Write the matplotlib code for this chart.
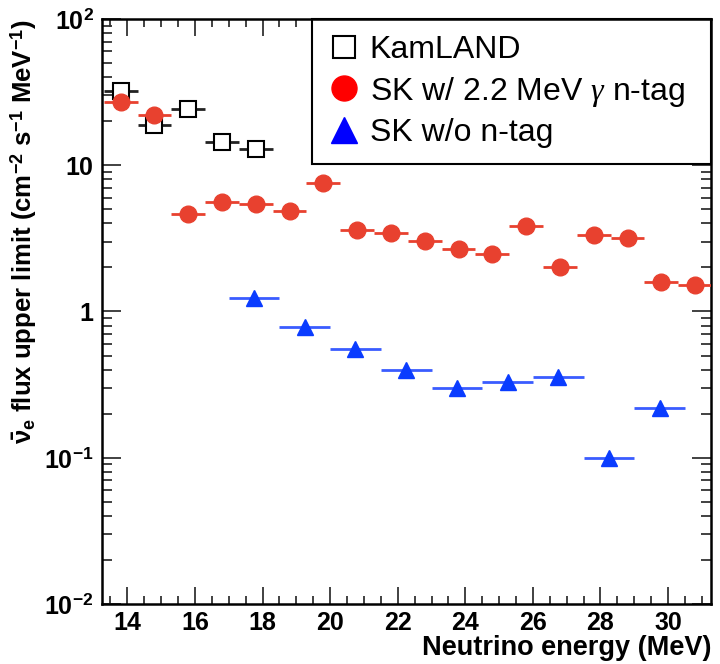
import matplotlib
matplotlib.use("Agg")
import matplotlib.pyplot as plt
from matplotlib.lines import Line2D
from matplotlib.ticker import MultipleLocator, LogLocator, FixedLocator, FixedFormatter, NullFormatter
import numpy as np

plt.rcParams['font.family'] = ['Liberation Sans', 'DejaVu Sans']
plt.rcParams['mathtext.fontset'] = 'custom'
plt.rcParams['mathtext.rm'] = 'Liberation Sans:bold'
plt.rcParams['mathtext.bf'] = 'Liberation Sans:bold'
plt.rcParams['mathtext.it'] = 'Liberation Serif:italic'

# KamLAND limits (1 MeV bins)
kam_e = [13.8, 14.8, 15.8, 16.8, 17.8]
kam_lim = [32.2, 18.8, 24.3, 14.4, 12.9]
kam_hw = 0.5

# SK with 2.2 MeV gamma n-tag (1 MeV bins)
sk_e = [13.8, 14.8, 15.8, 16.8, 17.8, 18.8, 19.8, 20.8, 21.8,
        22.8, 23.8, 24.8, 25.8, 26.8, 27.8, 28.8, 29.8, 30.8]
sk_lim = [27.0, 22.1, 4.64, 5.61, 5.43, 4.86, 7.57, 3.61, 3.42,
          3.03, 2.67, 2.47, 3.85, 2.01, 3.33, 3.18, 1.59, 1.52]
sk_hw = 0.5

# SK without n-tag (1.5 MeV bins)
nt_e = [17.75, 19.25, 20.75, 22.25, 23.75, 25.25, 26.75, 28.25, 29.75]
nt_lim = [1.24, 0.783, 0.555, 0.398, 0.300, 0.330, 0.356, 0.0995, 0.219]
nt_hw = 0.75

red = '#e8412f'
blue = '#0a3cff'

fig = plt.figure(figsize=(7.2, 6.64), dpi=100)
ax = fig.add_axes([0.1417, 0.0904, 0.8458, 0.881])

ax.errorbar(kam_e, kam_lim, xerr=kam_hw, fmt='s', ms=11, mfc='white', mec='black',
            mew=1.5, ecolor='#222222', elinewidth=2, capsize=0, zorder=3)
ax.errorbar(sk_e, sk_lim, xerr=sk_hw, fmt='o', ms=12, mfc=red, mec=red,
            ecolor=red, elinewidth=2, capsize=0, zorder=4)
ax.errorbar(nt_e, nt_lim, xerr=nt_hw, fmt='^', ms=12, mfc=blue, mec=blue,
            ecolor='#3a5cff', elinewidth=2, capsize=0, zorder=4)

ax.set_yscale('log')
ax.set_xlim(13.25, 31.27)
ax.set_ylim(0.01, 100)

ax.xaxis.set_major_locator(MultipleLocator(2))
ax.xaxis.set_minor_locator(MultipleLocator(0.5))
ax.yaxis.set_major_locator(FixedLocator([0.01, 0.1, 1, 10, 100]))
ax.yaxis.set_major_formatter(FixedFormatter([r'$10^{-2}$', r'$10^{-1}$', '1', '10', r'$10^{2}$']))
ax.yaxis.set_minor_locator(LogLocator(base=10, subs=np.arange(2, 10)))
ax.yaxis.set_minor_formatter(NullFormatter())

ax.tick_params(which='both', direction='in', top=True, right=True, width=1.3, color='#333333')
ax.tick_params(axis='x', which='major', length=12, pad=5, labelsize=18)
ax.tick_params(axis='x', which='minor', length=6)
ax.tick_params(axis='y', which='major', length=14, pad=6, labelsize=18)
ax.tick_params(axis='y', which='minor', length=7)
for lab in ax.get_xticklabels() + ax.get_yticklabels():
    lab.set_fontweight('bold')
for sp in ax.spines.values():
    sp.set_linewidth(1.8)

ax.set_xlabel('Neutrino energy (MeV)', loc='right', fontsize=19.5, fontweight='bold', labelpad=0)
ax.set_ylabel(r'$\bar{\mathrm{\nu}}_{\mathrm{e}}$ flux upper limit (cm$^{-2}$ s$^{-1}$ MeV$^{-1}$)',
              loc='top', fontsize=18.5, fontweight='bold', labelpad=4)

handles = [
    Line2D([], [], ls='none', marker='s', ms=16, mfc='white', mec='black', mew=1.5),
    Line2D([], [], ls='none', marker='o', ms=18, mfc='red', mec='red'),
    Line2D([], [], ls='none', marker='^', ms=19, mfc='blue', mec='blue'),
]
labels = ['KamLAND', r'SK w/ 2.2 MeV $\gamma$ n-tag', 'SK w/o n-tag']
leg = ax.legend(handles, labels, loc='upper left', bbox_to_anchor=(0.345, 1.0, 0.655, 0.0),
                mode='expand', borderaxespad=0, fontsize=23, frameon=True, fancybox=False,
                framealpha=1, edgecolor='black', handlelength=1.0,
                handletextpad=0.3, labelspacing=0.3, borderpad=0.5)
leg.get_frame().set_linewidth(1.5)
leg.set_zorder(2)

fig.savefig('out.png', dpi=100)
